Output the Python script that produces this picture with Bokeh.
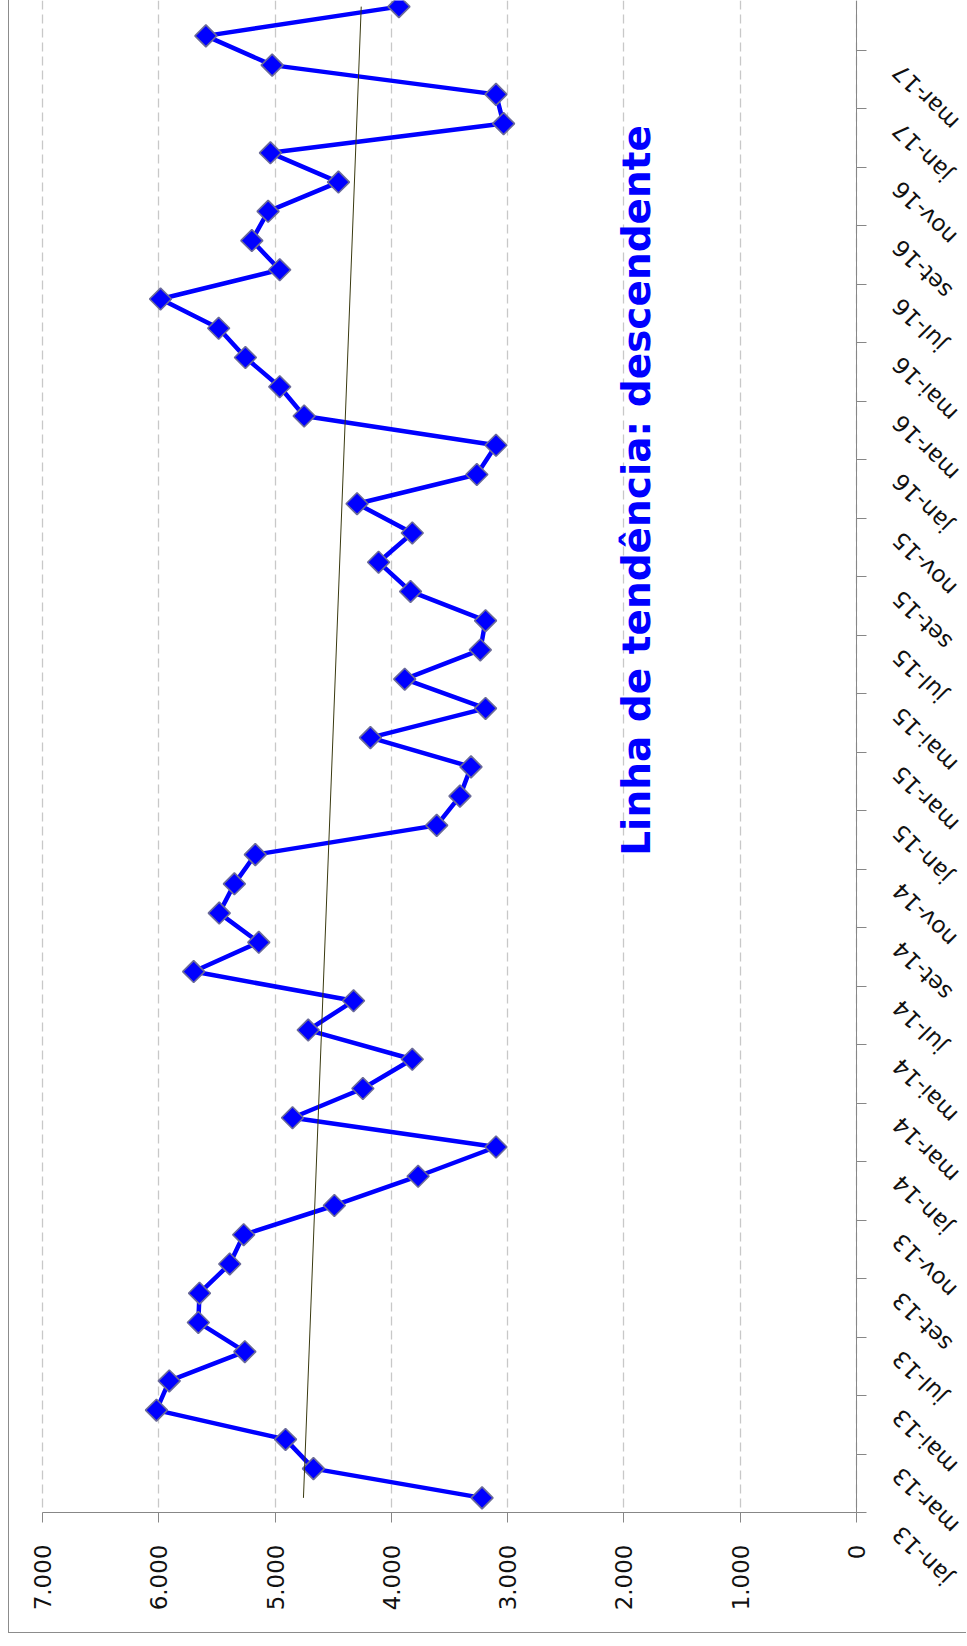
import numpy as np
from math import pi
from bokeh.plotting import figure
from bokeh.models import (ColumnDataSource, Range1d, FixedTicker, Label, LinearAxis,
                          Grid, BoxAnnotation)
from bokeh.embed import file_html
from bokeh.resources import INLINE

# ---- data ----
months = [
    "jan-13", "fev-13", "mar-13", "abr-13", "mai-13", "jun-13", "jul-13", "ago-13", "set-13", "out-13", "nov-13", "dez-13",
    "jan-14", "fev-14", "mar-14", "abr-14", "mai-14", "jun-14", "jul-14", "ago-14", "set-14", "out-14", "nov-14", "dez-14",
    "jan-15", "fev-15", "mar-15", "abr-15", "mai-15", "jun-15", "jul-15", "ago-15", "set-15", "out-15", "nov-15", "dez-15",
    "jan-16", "fev-16", "mar-16", "abr-16", "mai-16", "jun-16", "jul-16", "ago-16", "set-16", "out-16", "nov-16", "dez-16",
    "jan-17", "fev-17", "mar-17", "abr-17",
]
values = [
    3220, 4670, 4910, 6020, 5910, 5260, 5660, 5650, 5390, 5270, 4490, 3770,
    3100, 4850, 4245, 3820, 4715, 4325, 5700, 5140, 5480, 5350, 5170, 3610,
    3410, 3315, 4180, 3190, 3885, 3235, 3190, 3835, 4110, 3820, 4295, 3265,
    3100, 4750, 4960, 5255, 5485, 5985, 4960, 5200, 5060, 4455, 5040, 3035,
    3100, 5025, 5595, 3935,
]
value_ticks = [0, 1000, 2000, 3000, 4000, 5000, 6000, 7000]
value_tick_labels = ["0", "1.000", "2.000", "3.000", "4.000", "5.000", "6.000", "7.000"]
annotation_text = "Linha de tendência: descendente"

# ---- derived ----
n = len(months)
idx = list(range(n))
src = ColumnDataSource(dict(idx=idx, val=values, month=months))
boundary_ticks = [i - 0.5 for i in range(0, n + 2, 2)]
coef = np.polyfit(idx, values, 1)
trend_y = [0, n - 1]
trend_x = [float(np.polyval(coef, t)) for t in trend_y]

y_lo, y_hi = -0.5, 51.21          # category band limits of the plotting area
AXIS_GRAY = "#878787"

p = figure(
    width=958, height=1633,
    x_range=Range1d(7283.8, -954.5), y_range=Range1d(-4.638, y_hi),
    output_backend="svg", toolbar_location=None,
    x_axis_location=None, y_axis_location=None,
    min_border_left=0, min_border_right=0, min_border_top=0, min_border_bottom=0,
    outline_line_color=None, background_fill_color="white", border_fill_color="white",
    styles={"margin-left": "8px", "border-left": "1px solid #8c8c8c",
            "border-bottom": "1px solid #8c8c8c"},
)
# drop default grids
p.center = [r for r in p.center if not isinstance(r, Grid)]

# vertical dashed grid at value ticks, masked below the category axis start
p.add_layout(Grid(dimension=0, ticker=FixedTicker(ticks=value_ticks),
                  grid_line_color="#c8c8c8", grid_line_dash="9 5", grid_line_width=1.3))
p.add_layout(BoxAnnotation(top=y_lo, fill_color="white", fill_alpha=1.0,
                           line_color=None, level="underlay"))

# value axis (drawn at the start of the category axis)
ax = LinearAxis(fixed_location=y_lo, bounds=(0, 7000))
ax.ticker = FixedTicker(ticks=value_ticks)
ax.major_label_overrides = dict(zip(value_ticks, value_tick_labels))
ax.major_label_orientation = pi / 2
ax.major_label_text_font = "DejaVu Sans"
ax.major_label_text_font_size = "23px"
ax.major_label_text_color = "#111111"
ax.major_label_standoff = 22
ax.major_tick_out = 10
ax.major_tick_in = 0
ax.minor_tick_out = 0
ax.minor_tick_in = 0
ax.axis_line_color = AXIS_GRAY
ax.major_tick_line_color = AXIS_GRAY
p.add_layout(ax, "below")

# category axis (at value 0), ticks between every second month
ay = LinearAxis(fixed_location=0, bounds=(y_lo, y_hi))
ay.ticker = FixedTicker(ticks=boundary_ticks)
ay.major_label_text_color = None
ay.major_tick_out = 10
ay.major_tick_in = 0
ay.minor_tick_out = 0
ay.minor_tick_in = 0
ay.axis_line_color = AXIS_GRAY
ay.major_tick_line_color = AXIS_GRAY
p.add_layout(ay, "right")

# series
p.line("val", "idx", source=src, line_color="#0000FF", line_width=4.5)
p.scatter("val", "idx", source=src, marker="square", angle=pi / 4, size=15.5,
          fill_color="#0000FF", line_color="#6b6b99", line_width=1.6)

# trend line
p.line(trend_x, trend_y, line_color="#3a3a10", line_width=1)

# category labels (every second month), upside-down diagonal as in the reference
for i in range(0, n, 2):
    p.add_layout(Label(
        x=0, y=i - 1.1, x_offset=40, text=months[i], angle=3 * pi / 4,
        text_align="right", text_baseline="middle",
        text_font="DejaVu Sans", text_font_size="23px", text_color="#111111",
    ))

# annotation text
p.add_layout(Label(
    x=1895, y=21.96, text=annotation_text, angle=pi / 2,
    text_align="left", text_baseline="alphabetic",
    text_font="DejaVu Sans", text_font_style="bold", text_font_size="39px",
    text_color="#0000FF",
))

open("out.html", "w").write(file_html(p, INLINE))
